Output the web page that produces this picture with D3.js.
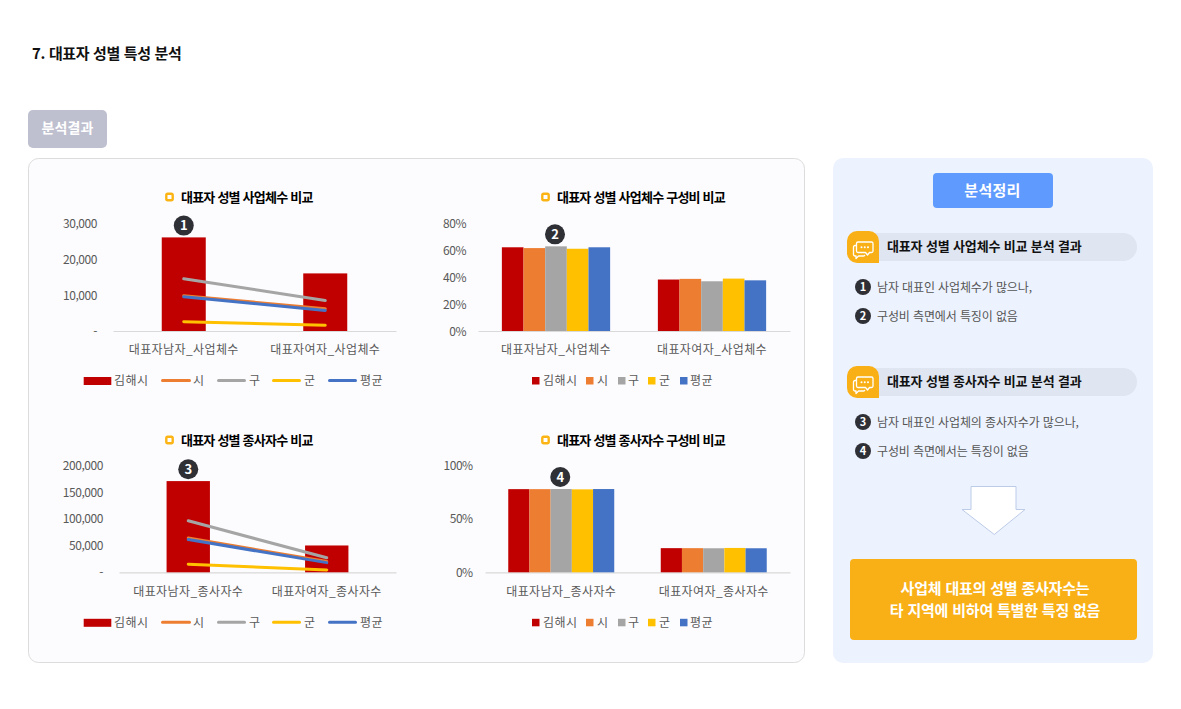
<!DOCTYPE html>
<html lang="ko"><head><meta charset="utf-8">
<script src="https://cdn.jsdelivr.net/npm/d3@7"></script>
<style>
html,body{margin:0;padding:0;background:#fff}
svg{display:block}
text{font-family:"Noto Sans CJK KR","Noto Sans",sans-serif}
</style></head><body><svg id="c" width="1181" height="709"></svg>
<script>
const seriesNames = ["김해시","시","구","군","평균"];
const seriesColors = ["#c00000","#ed7d31","#a5a5a5","#ffc000","#4472c4"];
const catsBiz = ["대표자남자_사업체수","대표자여자_사업체수"];
const catsEmp = ["대표자남자_종사자수","대표자여자_종사자수"];

const bizGimhae = [26000,16000];
const bizSi = [9800,6200];
const bizGu = [14500,8500];
const bizGun = [2600,1600];
const bizAvg = [9500,5700];

const empGimhae = [170000,50000];
const empSi = [64000,20000];
const empGu = [96000,27000];
const empGun = [15000,4500];
const empAvg = [61000,18000];

const bizShare = [[62.3,38.3],[61.7,38.8],[63,37],[61.2,39],[62.3,37.7]];
const empShare = [[77.5,22.5],[77.5,22.5],[77.6,22.4],[77.3,22.7],[77.6,22.4]];

const bizTicks = [0,10000,20000,30000];
const empTicks = [0,50000,100000,150000,200000];
const bizShareTicks = [0,20,40,60,80];
const empShareTicks = [0,50,100];

const pageTitle = "7. 대표자 성별 특성 분석";
const tabLabel = "분석결과";
const sideTitle = "분석정리";
const sideHeads = ["대표자 성별 사업체수 비교 분석 결과","대표자 성별 종사자수 비교 분석 결과"];
const sideNotes = ["남자 대표인 사업체수가 많으나,","구성비 측면에서 특징이 없음","남자 대표인 사업체의 종사자수가 많으나,","구성비 측면에서는 특징이 없음"];
const conclusion = ["사업체 대표의 성별 종사자수는","타 지역에 비하여 특별한 특징 없음"];

const svg = d3.select("#c");
const axisColor = "#595959";
function label(g,x,y,t,o={}){
  return g.append("text").attr("x",x).attr("y",y).attr("dy","0.36em").text(t)
    .attr("fill",o.fill||"#000").attr("font-size",o.size||12).attr("font-weight",o.weight||400)
    .attr("text-anchor",o.anchor||"start").attr("letter-spacing",o.ls==null?0:o.ls);
}
function badge(g,x,y,n,r,size){
  g.append("circle").attr("cx",x).attr("cy",y).attr("r",r).attr("fill","#2e3036");
  label(g,x,y,n,{fill:"#fff",size:size,weight:700,anchor:"middle"});
}

// page frame
label(svg,32,54,pageTitle,{size:15,weight:700,fill:"#111",ls:-0.35});
svg.append("rect").attr("x",28).attr("y",110).attr("width",79).attr("height",38).attr("rx",5).attr("fill","#bfc0cf");
label(svg,67.5,127.5,tabLabel,{fill:"#fff",size:14,weight:700,anchor:"middle",ls:0.1});
svg.append("rect").attr("x",28.5).attr("y",158.5).attr("width",776).attr("height",504).attr("rx",10)
  .attr("fill","#fcfcfe").attr("stroke","#dcdcdc");
svg.append("rect").attr("x",833).attr("y",158).attr("width",320).attr("height",505).attr("rx",10).attr("fill","#edf3fe");

function titleBlock(g,mx,tx,y,t){
  g.append("rect").attr("x",mx-3.2).attr("y",y-3.2).attr("width",6.4).attr("height",6.4).attr("rx",1.5)
    .attr("fill","#fff").attr("stroke","#fbb414").attr("stroke-width",2.4);
  label(g,tx,y,t,{size:13,weight:700,ls:-0.78});
}

function legend(g,y,kind,positions){
  seriesNames.forEach((n,i)=>{
    const p=positions[i];
    if(kind==="combo"){
      if(i===0) g.append("rect").attr("x",p[0]).attr("y",y-3.5).attr("width",p[1]-p[0]).attr("height",8).attr("fill",seriesColors[i]);
      else g.append("line").attr("x1",p[0]+1.5).attr("x2",p[1]-1.5).attr("y1",y).attr("y2",y).attr("stroke",seriesColors[i]).attr("stroke-width",3).attr("stroke-linecap","round");
    } else {
      g.append("rect").attr("x",p[0]).attr("y",y-3.5).attr("width",p[1]-p[0]).attr("height",7.5).attr("fill",seriesColors[i]);
    }
    label(g,p[2],y,n,{size:12,fill:axisColor,ls:0.4});
  });
}

function frame(cfg){
  const g=svg.append("g");
  const x=d3.scaleBand().domain(cfg.cats).range([cfg.x0,cfg.x1]).paddingInner(cfg.pad).paddingOuter(cfg.pad/2);
  const y=d3.scaleLinear().domain([0,cfg.max]).range([cfg.base,cfg.top]);
  const ya=d3.axisLeft(y).tickValues(cfg.ticks).tickSize(0).tickFormat(cfg.fmt);
  const ay=g.append("g").attr("transform",`translate(${cfg.tickX},0)`).call(ya);
  ay.select(".domain").remove();
  ay.selectAll("text").attr("x",0).attr("dy","0.36em").attr("fill",axisColor).attr("font-size",12)
    .attr("letter-spacing",-0.45).style("font-family",'"Noto Sans CJK KR",sans-serif');
  const xa=d3.axisBottom(x).tickSize(0);
  const ax=g.append("g").attr("transform",`translate(0,${cfg.base})`).call(xa);
  ax.select(".domain").attr("stroke","#d9d9d9").attr("stroke-width",1.2);
  ax.selectAll("text").attr("y",19).attr("dy","0.36em").attr("fill",axisColor).attr("font-size",12)
    .attr("letter-spacing",0.4).style("font-family",'"Noto Sans CJK KR",sans-serif');
  titleBlock(g,cfg.mx,cfg.tx,cfg.ty,cfg.title);
  return {g,x,y};
}

function combo(cfg){
  const {g,x,y}=frame(Object.assign({fmt:d=>d===0?"-":d3.format(",")(d)},cfg));
  g.selectAll(".bar").data(cfg.cats.map((c,i)=>({c,v:cfg.bars[i]}))).join("rect")
    .attr("x",d=>x(d.c)).attr("width",x.bandwidth()).attr("y",d=>y(d.v)).attr("height",d=>cfg.base-y(d.v)).attr("fill",seriesColors[0]);
  const line=d3.line().x((d,i)=>x(cfg.cats[i])+x.bandwidth()/2).y(d=>y(d));
  cfg.lines.forEach((vals,i)=>{
    g.append("path").attr("d",line(vals)).attr("fill","none").attr("stroke",seriesColors[i+1]).attr("stroke-width",3).attr("stroke-linecap","round");
  });
  legend(g,cfg.ly,"combo",cfg.leg);
  badge(g,x(cfg.cats[0])+x.bandwidth()/2,y(d3.max(cfg.bars))-11.8,cfg.badge,10,13);
}

function grouped(cfg){
  const {g,x,y}=frame(Object.assign({fmt:d=>d+"%"},cfg));
  const inner=d3.scaleBand().domain(seriesNames).range([0,x.bandwidth()]);
  cfg.vals.forEach((vals,s)=>{
    g.selectAll(null).data(cfg.cats.map((c,i)=>({c,v:vals[i]}))).join("rect")
      .attr("x",d=>x(d.c)+inner(seriesNames[s])).attr("width",inner.bandwidth()).attr("y",d=>y(d.v)).attr("height",d=>cfg.base-y(d.v)).attr("fill",seriesColors[s]);
  });
  legend(g,cfg.ly,"bars",cfg.leg);
  const top=d3.max(cfg.vals,v=>v[0]);
  badge(g,x(cfg.cats[0])+x.bandwidth()/2-1,y(top)-12,cfg.badge,10,13);
}

const comboLeg=[[83.7,111.3,114],[161,191,193],[217,246,249],[272,301,304],[328,357,360]];
const barLeg=[[532,539.5,543],[586,593.5,597],[618,625.5,628],[648,655.5,659],[680,687.5,690]];

combo({cats:catsBiz,bars:bizGimhae,lines:[bizSi,bizGu,bizGun,bizAvg],x0:113,x1:396,pad:.689,base:331,top:223,max:30000,ticks:bizTicks,tickX:97,
  title:"대표자 성별 사업체수 비교",mx:169.5,tx:181,ty:197,ly:380.5,leg:comboLeg,badge:"1"});
grouped({cats:catsBiz,vals:bizShare,x0:478,x1:790,pad:.306,base:331,top:223.5,max:80,ticks:bizShareTicks,tickX:466,
  title:"대표자 성별 사업체수 구성비 비교",mx:545.5,tx:557,ty:197,ly:380.5,leg:barLeg,badge:"2"});
combo({cats:catsEmp,bars:empGimhae,lines:[empSi,empGu,empGun,empAvg],x0:119,x1:396,pad:.687,base:572.3,top:465,max:200000,ticks:empTicks,tickX:103,
  title:"대표자 성별 종사자수 비교",mx:169.5,tx:181,ty:440,ly:622.3,leg:comboLeg,badge:"3"});
grouped({cats:catsEmp,vals:empShare,x0:485,x1:790,pad:.305,base:572.3,top:465,max:100,ticks:empShareTicks,tickX:472.7,
  title:"대표자 성별 종사자수 구성비 비교",mx:545.5,tx:557,ty:440,ly:622.3,leg:barLeg,badge:"4"});

// summary panel
svg.append("rect").attr("x",933).attr("y",173).attr("width",120).attr("height",35).attr("rx",4).attr("fill","#5f9bff");
label(svg,992.5,190.5,sideTitle,{fill:"#fff",size:15,weight:700,anchor:"middle",ls:0.3});

function iconAt(g,x,y){
  g.append("path").attr("d",`M${x+10},${y}H${x+22}A10,10 0 0 1 ${x+32},${y+10}V${y+32}H${x+10}A10,10 0 0 1 ${x},${y+22}V${y+10}A10,10 0 0 1 ${x+10},${y}Z`).attr("fill","#f9b017");
  const s=g.append("g").attr("transform",`translate(${x},${y})`).attr("fill","none").attr("stroke","#fff").attr("stroke-width",1.3).attr("stroke-linejoin","round");
  s.append("path").attr("d","M11,11H24.5a1.5,1.5 0 0 1 1.5,1.5V20a1.5,1.5 0 0 1 -1.5,1.5H22.5L20.5,24L18.5,21.5H11a1.5,1.5 0 0 1 -1.5,-1.5V12.5A1.5,1.5 0 0 1 11,11Z");
  s.append("path").attr("d","M9.5,14.5H8a1.5,1.5 0 0 0 -1.5,1.5V23.5A1.5,1.5 0 0 0 8,25H9V27.5L11.5,25H16.5a1.5,1.5 0 0 0 1.3,-1.2");
  [14.5,17.75,21].forEach(cx=>g.append("circle").attr("cx",x+cx).attr("cy",y+16.2).attr("r",1).attr("fill","#fff"));
}
const headRows=[247,382];
const noteRows=[287,316,422,451];
sideHeads.forEach((t,i)=>{
  const cy=headRows[i];
  svg.append("rect").attr("x",860).attr("y",cy-14).attr("width",277).attr("height",28).attr("rx",14).attr("fill","#dfe5f1");
  iconAt(svg,847,cy-16);
  label(svg,887,cy-0.5,t,{size:13,weight:700,fill:"#111",ls:-0.15});
});
sideNotes.forEach((t,i)=>{
  badge(svg,863,noteRows[i],String(i+1),8,11);
  label(svg,877,noteRows[i]+0.8,t,{size:12,fill:"#555",ls:-0.12});
});
svg.append("path").attr("d","M971,486.5H1016V509.5H1025L994.3,534.5L962,509.5H971Z")
  .attr("fill","#fff").attr("stroke","#bccbe8").attr("stroke-width",1);
svg.append("rect").attr("x",850).attr("y",559).attr("width",287).attr("height",81).attr("rx",4).attr("fill","#f9b017");
conclusion.forEach((t,i)=>label(svg,995,589+i*21.5,t,{fill:"#fff",size:15,weight:700,anchor:"middle",ls:-0.2}));
</script></body></html>
